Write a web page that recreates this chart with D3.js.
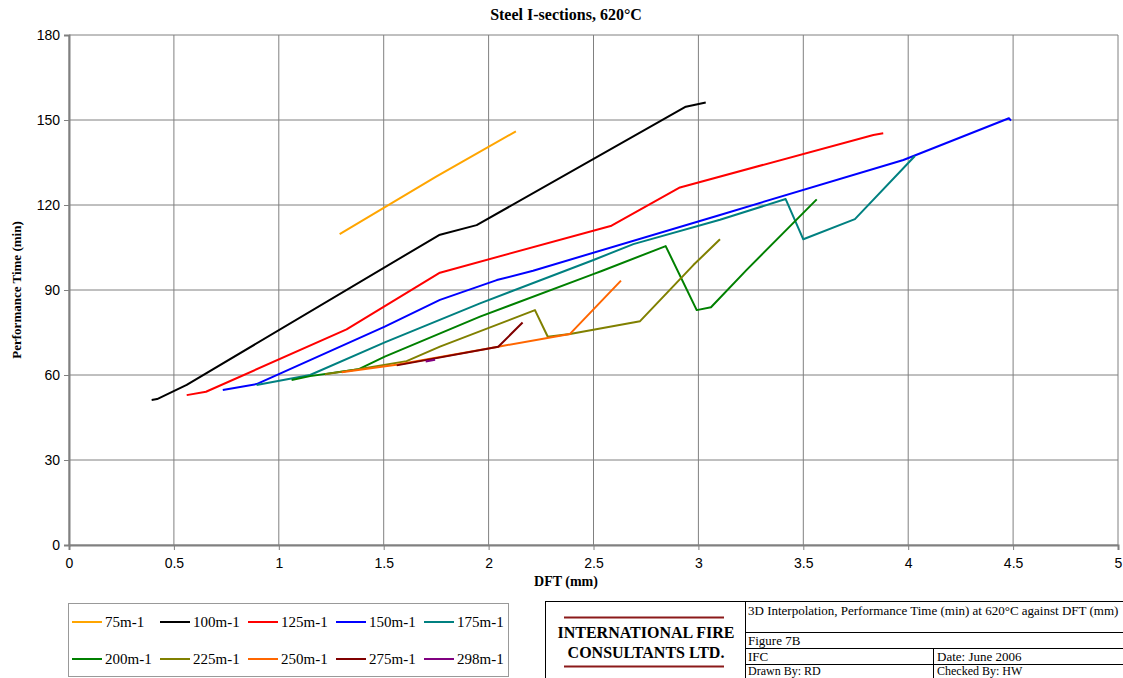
<!DOCTYPE html>
<html>
<head>
<meta charset="utf-8">
<script src="https://cdn.jsdelivr.net/npm/d3@7"></script>
<style>
  html, body { margin: 0; padding: 0; background: #fff; }
  svg { display: block; }
</style>
</head>
<body>
<svg id="chart" width="1123" height="678"></svg>
<script>
// Performance time (min) against dry film thickness (mm), one series per section factor
const seriesNames = ["75m-1", "100m-1", "125m-1", "150m-1", "175m-1",
                     "200m-1", "225m-1", "250m-1", "275m-1", "298m-1"];
const seriesColors = ["#FFA500", "#000000", "#FF0000", "#0000FF", "#008080",
                      "#008000", "#808000", "#FF6600", "#800000", "#800080"];

const s75  = [[1.29, 109.7], [1.75, 130], [2.13, 146]];
const s100 = [[0.394, 51.2], [0.42, 51.5], [0.561, 56.5], [1.764, 109.4], [1.943, 112.9],
              [2.94, 154.7], [3.035, 156.2]];
const s125 = [[0.561, 52.9], [0.653, 54.1], [1.323, 76.1], [1.768, 96.1], [2.586, 112.7],
              [2.912, 126.2], [3.834, 144.7], [3.881, 145.3]];
const s150 = [[0.733, 54.7], [0.894, 56.8], [1.505, 77.1], [1.768, 86.5], [2.039, 93.5],
              [2.212, 96.8], [3.103, 116.5], [3.977, 135.9], [4.48, 150.6], [4.49, 149.8]];
const s175 = [[0.894, 56.5], [1.149, 60], [1.505, 71.5], [1.959, 85.3], [2.5, 100.6],
              [2.69, 106.2], [3.103, 114.8], [3.416, 122.1], [3.5, 107.9], [3.746, 115],
              [4.032, 137.3]];
const s200 = [[1.061, 58.2], [1.149, 59.6], [1.379, 62], [1.505, 66.5], [1.959, 80.6],
              [2.499, 95.6], [2.539, 96.7], [2.844, 105.5], [2.992, 82.9], [3.06, 83.9],
              [3.23, 97.1], [3.564, 122]];
const s225 = [[1.22, 60.3], [1.38, 62], [1.609, 64.9], [1.768, 70], [2.221, 82.9],
              [2.282, 73.5], [2.388, 74.5], [2.722, 79], [2.976, 98.8], [3.103, 107.9]];
const s250 = [[1.3, 61], [1.56, 63.6], [2.046, 70], [2.388, 74.5], [2.631, 93.3]];
const s275 = [[1.562, 63.4], [2.046, 70], [2.162, 78.5]];
const s298 = [[1.70, 64.8], [1.745, 65.4]];

const seriesData = [s75, s100, s125, s150, s175, s200, s225, s250, s275, s298];

const xTicks = [0, 0.5, 1, 1.5, 2, 2.5, 3, 3.5, 4, 4.5, 5];
const yTicks = [0, 30, 60, 90, 120, 150, 180];

const titleText = "Steel I-sections, 620°C";
const xTitle = "DFT (mm)";
const yTitle = "Performance Time (min)";

const svg = d3.select("#chart");
const plot = { left: 69, top: 35, right: 1118, bottom: 545 };

const x = d3.scaleLinear().domain([0, 5]).range([plot.left, plot.right]);
const y = d3.scaleLinear().domain([0, 180]).range([plot.bottom, plot.top]);

// Grid
const grid = svg.append("g");
grid.selectAll("line.v").data(xTicks).join("line")
  .attr("x1", d => x(d)).attr("x2", d => x(d))
  .attr("y1", plot.top).attr("y2", plot.bottom)
  .attr("stroke", "#808080").attr("stroke-width", 1);
grid.selectAll("line.h").data(yTicks).join("line")
  .attr("x1", plot.left).attr("x2", plot.right)
  .attr("y1", d => y(d)).attr("y2", d => y(d))
  .attr("stroke", "#808080").attr("stroke-width", 1);

// Axes
const yAxis = d3.axisLeft(y).tickValues(yTicks).tickSize(5).tickPadding(4);
const xAxis = d3.axisBottom(x).tickValues(xTicks).tickSize(5).tickPadding(8)
  .tickFormat(d => String(d));

const gy = svg.append("g").attr("transform", `translate(${plot.left},0)`).call(yAxis);
const gx = svg.append("g").attr("transform", `translate(0,${plot.bottom})`).call(xAxis);
[gx, gy].forEach(g => {
  g.select(".domain").attr("stroke", "#808080").attr("stroke-width", 2);
  g.selectAll(".tick line").attr("stroke", "#808080");
  g.selectAll("text").attr("font-family", "Arial, 'Liberation Sans', sans-serif")
    .attr("font-size", 14).attr("fill", "#000");
});

// Series lines
const line = d3.line().x(d => x(d[0])).y(d => y(d[1]));
svg.append("g").selectAll("path").data(seriesData).join("path")
  .attr("d", line)
  .attr("fill", "none")
  .attr("stroke", (d, i) => seriesColors[i])
  .attr("stroke-width", 2)
  .attr("stroke-linejoin", "round");

// Titles
const serif = "'Times New Roman', 'Liberation Serif', serif";
svg.append("text").attr("x", 566).attr("y", 20).attr("text-anchor", "middle")
  .attr("font-family", serif).attr("font-weight", "bold").attr("font-size", 16)
  .text(titleText);
svg.append("text").attr("x", 566).attr("y", 586).attr("text-anchor", "middle")
  .attr("font-family", serif).attr("font-weight", "bold").attr("font-size", 14)
  .text(xTitle);
svg.append("text").attr("transform", "translate(21,290) rotate(-90)")
  .attr("text-anchor", "middle")
  .attr("font-family", serif).attr("font-weight", "bold").attr("font-size", 13)
  .text(yTitle);

// Legend
const legend = svg.append("g");
legend.append("rect").attr("x", 68.5).attr("y", 603.5).attr("width", 440).attr("height", 73)
  .attr("fill", "#fff").attr("stroke", "#999").attr("stroke-width", 1);
const item = legend.selectAll("g.item").data(seriesNames).join("g")
  .attr("transform", (d, i) => `translate(${72 + (i % 5) * 88},${i < 5 ? 622 : 659})`);
item.append("line").attr("x1", 0).attr("x2", 30).attr("y1", 0).attr("y2", 0)
  .attr("stroke", (d, i) => seriesColors[i]).attr("stroke-width", 2);
item.append("text").attr("x", 33).attr("y", 5)
  .attr("font-family", serif).attr("font-size", 15).text(d => d);

// Title block
const tb = svg.append("g").attr("font-family", serif);
tb.append("rect").attr("x", 545.5).attr("y", 601.5).attr("width", 600).attr("height", 100)
  .attr("fill", "#fff").attr("stroke", "#000");
tb.append("line").attr("x1", 745.5).attr("x2", 745.5).attr("y1", 601).attr("y2", 678).attr("stroke", "#000");
[632.5, 648.5, 664.5].forEach(v => {
  tb.append("line").attr("x1", 745).attr("x2", 1123).attr("y1", v).attr("y2", v).attr("stroke", "#000");
});
tb.append("line").attr("x1", 933.5).attr("x2", 933.5).attr("y1", 648).attr("y2", 678).attr("stroke", "#000");
[617.5, 666.5].forEach(v => {
  tb.append("line").attr("x1", 564).attr("x2", 724).attr("y1", v).attr("y2", v)
    .attr("stroke", "#8B1A1A").attr("stroke-width", 2);
});
tb.append("text").attr("x", 646).attr("y", 638).attr("text-anchor", "middle")
  .attr("font-weight", "bold").attr("font-size", 16).text("INTERNATIONAL FIRE");
tb.append("text").attr("x", 646).attr("y", 658).attr("text-anchor", "middle")
  .attr("font-weight", "bold").attr("font-size", 16).text("CONSULTANTS LTD.");
tb.append("text").attr("x", 748).attr("y", 615).attr("font-size", 13)
  .text("3D Interpolation, Performance Time (min) at 620°C against DFT (mm)");
tb.append("text").attr("x", 748).attr("y", 645).attr("font-size", 13).text("Figure 7B");
tb.append("text").attr("x", 748).attr("y", 661).attr("font-size", 13).text("IFC");
tb.append("text").attr("x", 937).attr("y", 661).attr("font-size", 13).text("Date: June 2006");
tb.append("text").attr("x", 748).attr("y", 675).attr("font-size", 12).text("Drawn By: RD");
tb.append("text").attr("x", 937).attr("y", 675).attr("font-size", 12).text("Checked By: HW");
</script>
</body>
</html>
